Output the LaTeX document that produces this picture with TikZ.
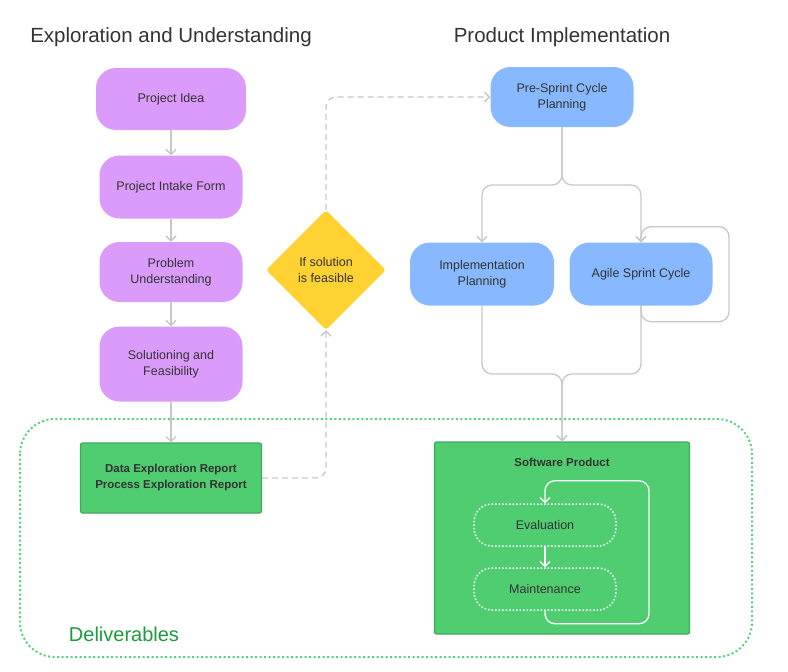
\documentclass[tikz,border=0pt]{standalone}
\usepackage{fontspec}
\setmainfont{Liberation Sans}
\usetikzlibrary{arrows.meta,shapes.geometric}

\definecolor{lilac}{HTML}{DA9BFB}
\definecolor{skyblue}{HTML}{88B8FF}
\definecolor{sunny}{HTML}{FFD234}
\definecolor{leaf}{HTML}{50CC71}
\definecolor{leafdark}{HTML}{3FA95C}
\definecolor{delivgreen}{HTML}{55D27C}
\definecolor{delivtext}{HTML}{1C9B3B}
\definecolor{wire}{HTML}{C8C8C8}
\definecolor{ink}{HTML}{333333}

\begin{document}
\begin{tikzpicture}[x=1pt,y=-1pt,
  every node/.style={text=ink,align=center,font=\fontsize{12.5}{16}\selectfont},
  heading/.style={font=\fontsize{20.5}{24}\selectfont},
  pill/.style={rounded corners=20pt,minimum width=143pt,minimum height=62pt,inner sep=0pt},
  report/.style={fill=leaf,draw=leafdark,line width=1.2pt,rounded corners=2pt,inner sep=0pt,
    font=\bfseries\fontsize{11.5}{16}\selectfont},
  stage/.style={draw=white,line width=1.5pt,dash pattern=on 1.5pt off 2pt,rounded corners=18pt,
    minimum width=142pt,minimum height=42pt,inner sep=0pt},
  conn/.style={draw=wire,line width=1.3pt,rounded corners=10pt,-{Straight Barb[length=5pt,width=10pt]}},
  dashconn/.style={conn,dash pattern=on 6pt off 4pt}]

  \useasboundingbox (0,0) rectangle (788,672);

  % deliverables frame
  \draw[delivgreen,line width=2pt,dash pattern=on 2pt off 2.5pt,rounded corners=35pt] (20,419) rectangle (752,657);
  \node[text=delivtext,font=\fontsize{20}{24}\selectfont] (deliv) at (124,634) {Deliverables};

  \node[heading] (explore) at (171,37) {Exploration and Understanding};
  \node[heading] (product) at (562,37) {Product Implementation};

  % exploration column
  \node[pill,fill=lilac,minimum width=150pt] (idea) at (171,99) {Project Idea};
  \node[pill,fill=lilac,minimum height=63pt] (intake) at (171,187) {Project Intake Form};
  \node[pill,fill=lilac,minimum height=60pt] (problem) at (171,272) {Problem\\Understanding};
  \node[pill,fill=lilac,minimum height=75pt] (solution) at (171,364) {Solutioning and\\Feasibility};
  \node[report,minimum width=181pt,minimum height=70pt] (data) at (171,478) {Data Exploration Report\\Process Exploration Report};

  \draw[conn] (idea) -- (intake);
  \draw[conn] (intake) -- (problem);
  \draw[conn] (problem) -- (solution);
  \draw[conn] (solution) -- (data);

  \node[diamond,fill=sunny,minimum width=120pt,minimum height=120pt,inner sep=0pt,rounded corners=3pt] (feasible) at (326,270) {If solution\\is feasible};

  % implementation
  \node[pill,fill=skyblue,minimum height=60pt] (presprint) at (562,97) {Pre-Sprint Cycle\\Planning};
  \node[pill,fill=skyblue,minimum width=144pt,minimum height=63pt] (implplan) at (482,274) {Implementation\\Planning};
  \node[pill,fill=skyblue,minimum height=63pt] (agile) at (641,274) {Agile Sprint Cycle};

  \node[fill=leaf,draw=leafdark,line width=1.2pt,rounded corners=2pt,minimum width=255pt,minimum height=192pt] (software) at (562,538) {};
  \node[font=\bfseries\fontsize{11.5}{16}\selectfont] (softtitle) at (562,462) {Software Product};
  \node[stage] (eval) at (545,525) {Evaluation};
  \node[stage] (maint) at (545,589) {Maintenance};

  \coordinate (split) at (562,185);
  \coordinate (merge) at (562,374);

  \draw[dashconn] (data.east) -| (feasible.south);
  \draw[dashconn] (feasible.north) |- (presprint.west);
  \draw[conn] (presprint.south) -- (split) -| (implplan.north);
  \draw[conn] (presprint.south) -- (split) -| (agile.north);
  \draw[conn] (agile.south) -- ++(0,16) -| ++(88,-95) -| (agile.north);
  \draw[conn] (implplan.south) |- (merge) -- (software.north);
  \draw[conn] (agile.south) |- (merge) -- (software.north);

  \draw[conn,draw=white] (eval) -- (maint);
  \draw[conn,draw=white] (maint.south) -- ++(0,13) -| ++(104,-143) -| (eval.north);
\end{tikzpicture}
\end{document}
